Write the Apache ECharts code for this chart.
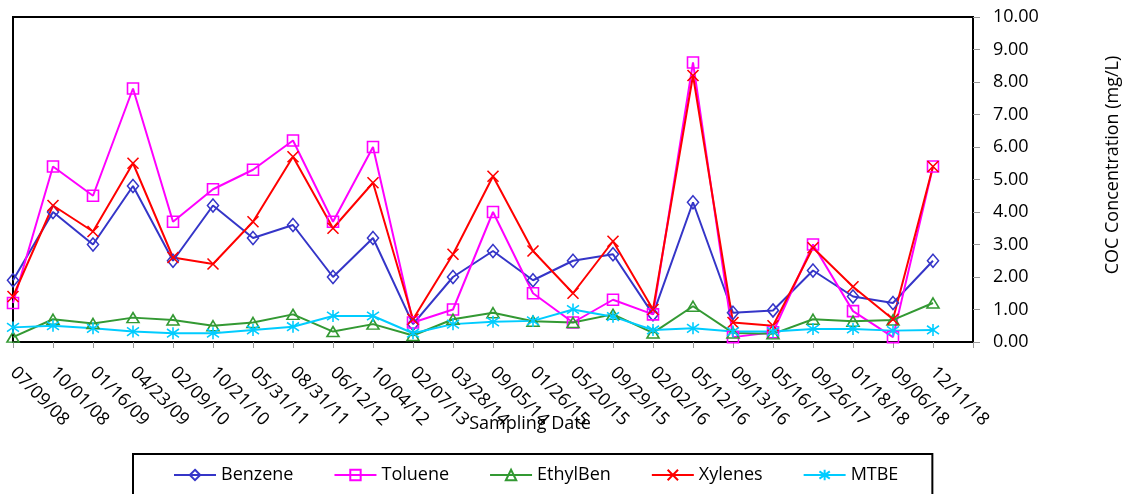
<!DOCTYPE html>
<html>
<head>
<meta charset="utf-8">
<title>COC Concentration</title>
<script src="https://cdn.jsdelivr.net/npm/echarts@6/dist/echarts.min.js"></script>
<style>
  html, body { margin: 0; padding: 0; background: #fff; }
  #chart { width: 1127px; height: 494px; }
</style>
</head>
<body>
<div id="chart"></div>
<script>
// Sampling dates (the trailing blank slot leaves room before the right axis)
const sampleDates = ['07/09/08','10/01/08','01/16/09','04/23/09','02/09/10','10/21/10','05/31/11','08/31/11',
  '06/12/12','10/04/12','02/07/13','03/28/14','09/05/14','01/26/15','05/20/15','09/29/15',
  '02/02/16','05/12/16','09/13/16','05/16/17','09/26/17','01/18/18','09/06/18','12/11/18',''];

// Concentrations in mg/L
const benzene  = [1.9, 4.0, 3.0, 4.8, 2.5, 4.2, 3.2, 3.6, 2.0, 3.2, 0.55, 2.0, 2.8, 1.9, 2.5, 2.7, 0.85, 4.3, 0.9, 0.97, 2.2, 1.4, 1.2, 2.5];
const toluene  = [1.2, 5.4, 4.5, 7.8, 3.7, 4.7, 5.3, 6.2, 3.7, 6.0, 0.6, 1.0, 4.0, 1.5, 0.6, 1.3, 0.85, 8.6, 0.15, 0.3, 3.0, 0.95, 0.15, 5.4];
const ethylBen = [0.15, 0.7, 0.57, 0.75, 0.68, 0.5, 0.6, 0.85, 0.32, 0.55, 0.2, 0.7, 0.9, 0.64, 0.6, 0.85, 0.28, 1.1, 0.28, 0.25, 0.7, 0.64, 0.68, 1.2];
const xylenes  = [1.4, 4.2, 3.4, 5.5, 2.6, 2.4, 3.7, 5.7, 3.5, 4.9, 0.7, 2.7, 5.1, 2.8, 1.5, 3.1, 1.0, 8.2, 0.6, 0.5, 2.9, 1.7, 0.7, 5.4];
const mtbe     = [0.45, 0.5, 0.42, 0.32, 0.27, 0.27, 0.37, 0.47, 0.8, 0.8, 0.27, 0.55, 0.62, 0.65, 1.0, 0.78, 0.37, 0.42, 0.32, 0.32, 0.4, 0.4, 0.35, 0.37];

const yTicks = { min: 0, max: 10, step: 1 };

const FONT = '"Open Sans", Lato, sans-serif';

const markX = 'path://M0,0L10,10M10,0L0,10';
const markStar = 'path://M0,1.5L10,8.5M10,1.5L0,8.5M5,0L5,10';

function lineSeries(name, data, color, symbol, size) {
  return {
    name: name,
    type: 'line',
    data: data,
    symbol: symbol,
    symbolSize: size,
    showSymbol: true,
    lineStyle: { color: color, width: 2 },
    itemStyle: { color: 'rgba(255,255,255,0)', borderColor: color, borderWidth: 1.6 },
    emphasis: { disabled: true },
    animation: false
  };
}

const chart = echarts.init(document.getElementById('chart'), null, { renderer: 'canvas' });

chart.setOption({
  backgroundColor: '#ffffff',
  textStyle: { fontFamily: FONT },
  grid: {
    left: 13, right: 154, top: 17, bottom: 152,
    outerBoundsMode: 'none',
    containLabel: false,
    show: true, borderColor: '#000', borderWidth: 2, backgroundColor: 'transparent'
  },
  legend: {
    left: 133, top: 454,
    padding: [12, 34, 12, 40],
    itemWidth: 42, itemHeight: 13, itemGap: 40,
    borderColor: '#000', borderWidth: 2,
    textStyle: { fontFamily: FONT, fontSize: 18, color: '#000' },
    data: ['Benzene', 'Toluene', 'EthylBen', 'Xylenes', 'MTBE']
  },
  xAxis: {
    type: 'category',
    data: sampleDates,
    boundaryGap: false,
    name: 'Sampling Date',
    nameLocation: 'middle',
    nameGap: 73,
    nameMoveOverlap: false,
    nameTextStyle: { fontFamily: FONT, fontSize: 18, color: '#000', padding: [0, 0, 0, 74] },
    axisLine: { show: true, lineStyle: { color: '#000', width: 2 } },
    axisTick: { show: true, length: 6, lineStyle: { color: '#999' }, interval: 0 },
    axisLabel: { interval: 0, rotate: -45, margin: 28, fontFamily: FONT, fontSize: 18, color: '#000' },
    splitLine: { show: false }
  },
  yAxis: {
    type: 'value',
    position: 'right',
    min: yTicks.min, max: yTicks.max, interval: yTicks.step,
    name: 'COC Concentration (mg/L)',
    nameLocation: 'middle',
    nameRotate: 90,
    nameGap: 131,
    nameMoveOverlap: false,
    nameTextStyle: { fontFamily: FONT, fontSize: 18, color: '#000', padding: [0, 0, 0, 29] },
    axisLine: { show: true, lineStyle: { color: '#000', width: 2 } },
    axisTick: { show: true, inside: false, length: 7, lineStyle: { color: '#999' } },
    axisLabel: { margin: 20, fontFamily: FONT, fontSize: 18, color: '#000',
      formatter: function (v) { return v.toFixed(2); } },
    splitLine: { show: false }
  },
  series: [
    lineSeries('Benzene', benzene, '#3535C8', 'diamond', [11, 13]),
    lineSeries('Toluene', toluene, '#FF00FF', 'rect', 11),
    lineSeries('EthylBen', ethylBen, '#339933', 'triangle', [12, 10]),
    lineSeries('Xylenes', xylenes, '#FF0000', markX, 11),
    lineSeries('MTBE', mtbe, '#00CCFF', markStar, 12)
  ]
});
</script>
</body>
</html>
